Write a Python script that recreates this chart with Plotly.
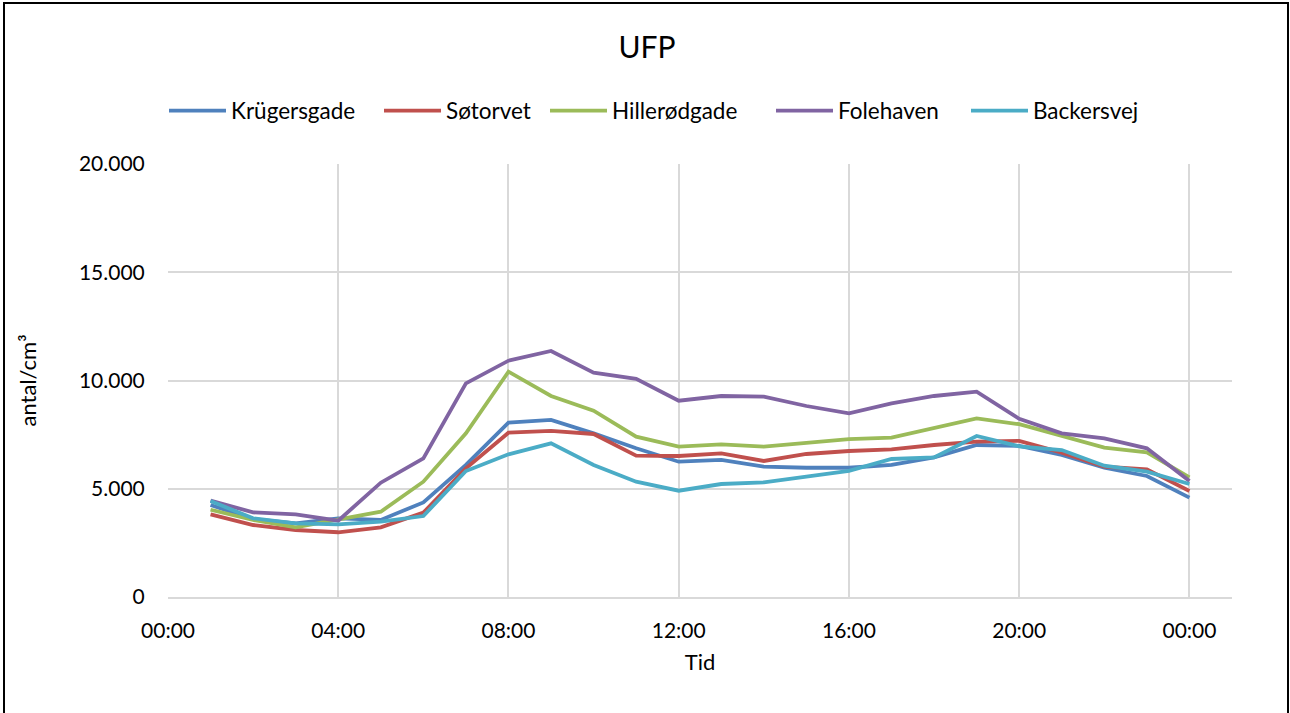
import plotly.graph_objects as go

hours = [1, 2, 3, 4, 5, 6, 7, 8, 9, 10, 11, 12, 13, 14, 15, 16, 17, 18, 19, 20, 21, 22, 23, 24]
tick_vals = [0, 4, 8, 12, 16, 20, 24]
tick_text = ["00:00", "04:00", "08:00", "12:00", "16:00", "20:00", "00:00"]

krugersgade = [4250, 3600, 3400, 3630, 3560, 4370, 6100, 8050, 8180, 7560, 6870, 6250,
               6330, 6020, 5970, 5970, 6100, 6450, 7020, 6980, 6560, 5970, 5590, 4590]
sotorvet = [3820, 3325, 3095, 2990, 3220, 3895, 5940, 7590, 7670, 7530, 6527, 6513,
            6637, 6282, 6605, 6744, 6820, 7021, 7175, 7215, 6667, 6020, 5898, 4896]
hillerodgade = [4030, 3557, 3220, 3580, 3940, 5326, 7560, 10408, 9284, 8606, 7405, 6943,
                7053, 6943, 7128, 7295, 7360, 7790, 8253, 7980, 7437, 6898, 6682, 5530]
folehaven = [4450, 3910, 3820, 3525, 5280, 6405, 9870, 10915, 11363, 10362, 10080, 9067,
             9284, 9253, 8822, 8483, 8945, 9284, 9484, 8230, 7560, 7330, 6867, 5358]
backersvej = [4430, 3635, 3400, 3355, 3480, 3740, 5820, 6590, 7098, 6097, 5326, 4910,
              5219, 5297, 5558, 5830, 6374, 6450, 7437, 6960, 6790, 6066, 5790, 5219]

series = [
    ("Krügersgade", krugersgade, "#4F81BD"),
    ("Søtorvet", sotorvet, "#C0504D"),
    ("Hillerødgade", hillerodgade, "#9BBB59"),
    ("Folehaven", folehaven, "#8064A2"),
    ("Backersvej", backersvej, "#4BACC6"),
]
# legend entry widths (px) to reproduce the spacing of the original legend
legend_widths = [143, 94, 154, 123, 130]

FONT = "Lato"
fig = go.Figure()
for (name, vals, color), lw in zip(series, legend_widths):
    fig.add_trace(go.Scatter(x=hours, y=vals, mode="lines", name=name,
                             line=dict(color=color, width=3.8), legendwidth=lw))

W, H = 1290, 713
L, R, T, B = 168, 58, 164, 116
pw, ph = W - L - R, H - T - B

def px_x(p):
    return (p - L) / pw

def px_y(p):
    return (H - B - p) / ph

fig.update_layout(
    width=W, height=H,
    margin=dict(l=L, r=R, t=T, b=B),
    paper_bgcolor="white", plot_bgcolor="white",
    separators=",.",
    font=dict(family=FONT, size=21, color="#000000"),
    title=dict(text="UFP", x=647 / W, xanchor="center", y=1 - 47 / H, yanchor="middle",
               xref="container", yref="container",
               font=dict(family=FONT, size=30, color="#000000")),
    legend=dict(orientation="h", x=px_x(164), xanchor="left", y=px_y(111), yanchor="middle",
                font=dict(family=FONT, size=22.5, color="#000000"), bgcolor="rgba(0,0,0,0)",
                itemwidth=57, tracegroupgap=0),
    xaxis=dict(range=[0, 25], tickvals=tick_vals, ticktext=tick_text,
               showgrid=True, gridcolor="#D9D9D9", gridwidth=1.5,
               showline=True, linecolor="#D9D9D9", linewidth=1.5,
               zeroline=False, ticks="outside", ticklen=14, tickcolor="rgba(0,0,0,0)",
               tickfont=dict(family=FONT, size=21),
               title=dict(text="Tid", standoff=14, font=dict(family=FONT, size=22))),
    yaxis=dict(range=[0, 20000], tickvals=[0, 5000, 10000, 15000, 20000], tickformat=",d",
               showgrid=True, gridcolor="#D9D9D9", gridwidth=1.5,
               showline=False, zeroline=False,
               ticks="outside", ticklen=18, tickcolor="rgba(0,0,0,0)",
               tickfont=dict(family=FONT, size=21),
               title=dict(text="antal/cm³", standoff=36, font=dict(family=FONT, size=22))),
    shapes=[dict(type="rect", xref="paper", yref="paper",
                 x0=px_x(4), x1=px_x(1288), y0=px_y(725), y1=px_y(3),
                 line=dict(color="#000000", width=2), fillcolor="rgba(0,0,0,0)", layer="below")],
)

fig.write_html("out.html", config={"displayModeBar": False},
               post_script="document.body.style.margin='0';")
